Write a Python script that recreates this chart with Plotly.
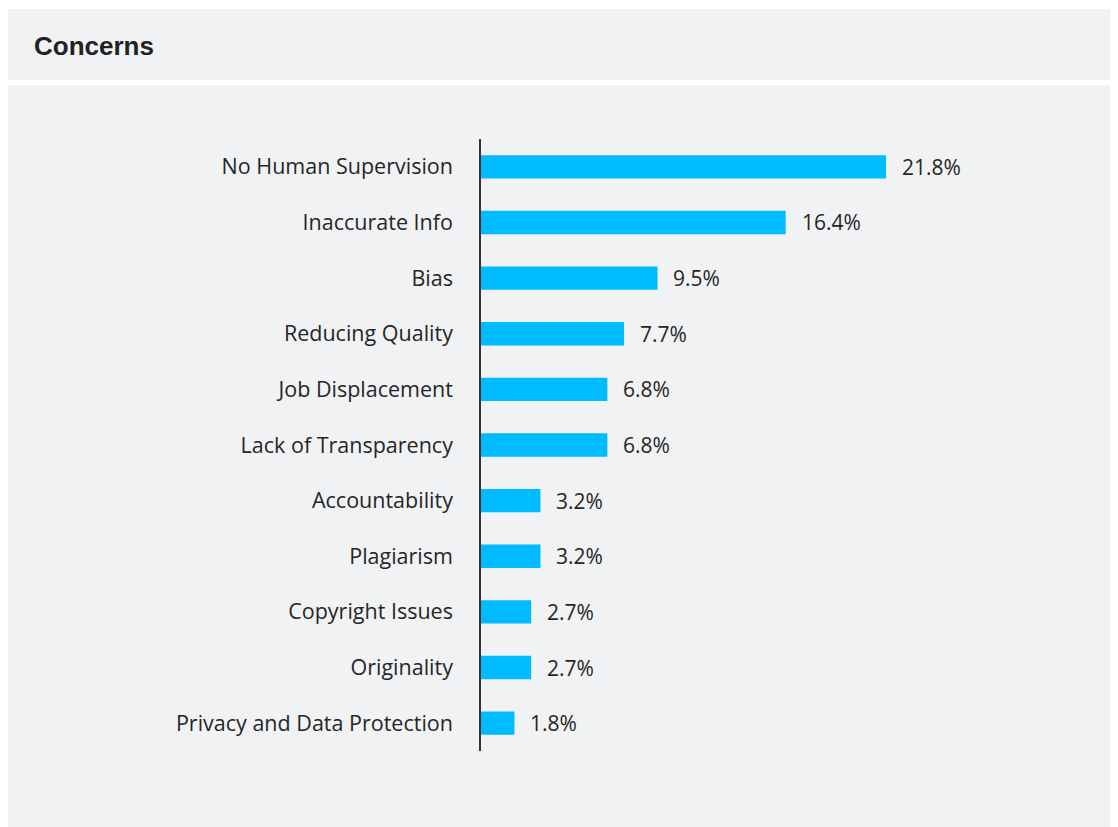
import plotly.graph_objects as go

categories = ["No Human Supervision", "Inaccurate Info", "Bias", "Reducing Quality",
              "Job Displacement", "Lack of Transparency", "Accountability", "Plagiarism",
              "Copyright Issues", "Originality", "Privacy and Data Protection"]
values = [21.8, 16.4, 9.5, 7.7, 6.8, 6.8, 3.2, 3.2, 2.7, 2.7, 1.8]
value_labels = ["21.8%", "16.4%", "9.5%", "7.7%", "6.8%", "6.8%", "3.2%", "3.2%", "2.7%", "2.7%", "1.8%"]

# page has an 8px body margin; figure coordinates are reference pixels minus 8
OFF = 8
W, H = 1118 - OFF, 827 - OFF
ML, MT = 481 - OFF, 139 - OFF
MR = 100
MB = 827 - 751
PW = W - ML - MR
PH = H - MT - MB
XMAX = PW / (405 / 21.8)

def px(x):
    return (x - OFF - ML) / PW

def py(y):
    return 1 - (y - OFF - MT) / PH

BAR = "#00bbff"
PANEL = "#f1f2f4"
TXT = "#262626"
FONT = "Open Sans"

fig = go.Figure()
fig.add_trace(go.Bar(
    x=values, y=categories, orientation="h",
    marker=dict(color=BAR, line=dict(width=0)),
    width=0.42, hoverinfo="skip",
))

for c, v, t in zip(categories, values, value_labels):
    fig.add_annotation(x=v, y=c, text=t, showarrow=False, xanchor="left", xshift=14,
                       font=dict(family=FONT, size=21, color=TXT))

fig.add_shape(type="rect", xref="paper", yref="paper", layer="below",
              x0=px(8), x1=px(1130), y0=py(80), y1=py(9), fillcolor=PANEL, line_width=0)
fig.add_shape(type="rect", xref="paper", yref="paper", layer="below",
              x0=px(8), x1=px(1130), y0=py(840), y1=py(85), fillcolor=PANEL, line_width=0)

fig.add_annotation(xref="paper", yref="paper", x=px(32), y=py(46), text="<b>Concerns</b>",
                   showarrow=False, xanchor="left", yanchor="middle",
                   font=dict(family="Liberation Sans", size=26, color="#222222"))

fig.update_layout(
    width=W, height=H,
    margin=dict(l=ML, r=MR, t=MT, b=MB),
    paper_bgcolor="white", plot_bgcolor="rgba(0,0,0,0)",
    showlegend=False,
    xaxis=dict(range=[0, XMAX], visible=False, fixedrange=True),
    yaxis=dict(autorange="reversed", showline=True, linecolor="#333333", linewidth=1.5,
               showgrid=False, zeroline=False, ticks="", ticklabelstandoff=22,
               tickfont=dict(family=FONT, size=21.5, color=TXT), fixedrange=True),
    font=dict(family=FONT, color=TXT),
)

fig.write_html("out.html", config={"displayModeBar": False})
